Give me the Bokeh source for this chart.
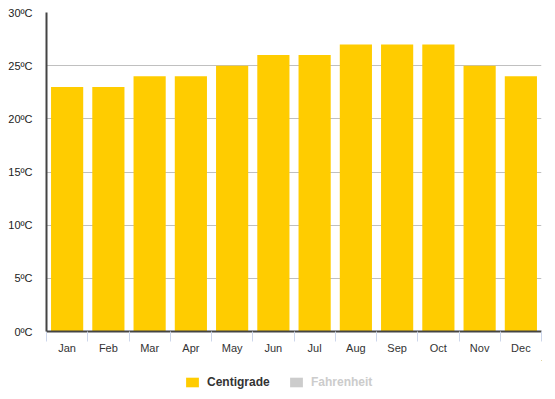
from bokeh.plotting import figure
from bokeh.layouts import column
from bokeh.models import Range1d, FixedTicker, Legend, LegendItem, ColumnDataSource
from bokeh.embed import file_html
from bokeh.resources import INLINE

months = ["Jan", "Feb", "Mar", "Apr", "May", "Jun", "Jul", "Aug", "Sep", "Oct", "Nov", "Dec"]
centigrade = [23, 23, 24, 24, 25, 26, 26, 27, 27, 27, 25, 24]
y_ticks = [0, 5, 10, 15, 20, 25, 30]
y_tick_labels = ["0ºC", "5ºC", "10ºC", "15ºC", "20ºC", "25ºC", "30ºC"]
series_names = ["Centigrade", "Fahrenheit"]

FONT = "Liberation Sans"

xs = [i + 0.5 for i in range(len(months))]
src = ColumnDataSource(dict(x=xs, top=centigrade))

p = figure(width=555, height=360, x_range=Range1d(0, len(months)), y_range=Range1d(0, 30),
           output_backend="svg", toolbar_location=None,
           min_border_left=46, min_border_right=14, min_border_top=12, min_border_bottom=29)
p.outline_line_color = None
p.background_fill_color = "white"
p.border_fill_color = "white"

p.xgrid.grid_line_color = None
p.ygrid.grid_line_color = "#c0c0c0"
p.ygrid.ticker = FixedTicker(ticks=y_ticks)

p.vbar(x="x", top="top", width=0.78, source=src, fill_color="#ffcc00", line_color=None)

# x axis
xa = p.xaxis[0]
xa.ticker = FixedTicker(ticks=xs, minor_ticks=list(range(len(months) + 1)))
xa.major_label_overrides = {x: m for x, m in zip(xs, months)}
xa.major_tick_line_color = None
xa.major_tick_out = 0
xa.major_tick_in = 0
xa.minor_tick_line_color = "#ccd6eb"
xa.minor_tick_out = 10
xa.minor_tick_in = 0
xa.axis_line_color = "#444444"
xa.axis_line_width = 2
xa.major_label_standoff = 0
xa.major_label_text_font = FONT
xa.major_label_text_font_size = "11px"
xa.major_label_text_color = "#333333"

# y axis
ya = p.yaxis[0]
ya.ticker = FixedTicker(ticks=y_ticks)
ya.major_label_overrides = {t: l for t, l in zip(y_ticks, y_tick_labels)}
ya.major_tick_line_color = None
ya.major_tick_out = 0
ya.major_tick_in = 0
ya.minor_tick_line_color = None
ya.axis_line_color = "#444444"
ya.axis_line_width = 2
ya.major_label_standoff = 14
ya.major_label_text_font = FONT
ya.major_label_text_font_size = "11px"
ya.major_label_text_color = "#222222"

# legend strip (proxy renderers lie far outside the strip's visible ranges)
lf = figure(width=555, height=39, x_range=Range1d(-1000, -999), y_range=Range1d(-1000, -999),
            output_backend="svg", toolbar_location=None,
            x_axis_location=None, y_axis_location=None,
            min_border_left=46, min_border_right=14, min_border_top=0, min_border_bottom=0)
lf.outline_line_color = None
lf.grid.grid_line_color = None
lr1 = lf.vbar(x="x", top="top", width=0.5, source=src, fill_color="#ffcc00", line_color=None)
lr2 = lf.vbar(x="x", top="top", width=0.5, source=src, fill_color="#cccccc", line_color=None)

def make_legend(label, renderer, color, x):
    return Legend(items=[LegendItem(label=label, renderers=[renderer])],
                  location=(x, 10), orientation="horizontal",
                  glyph_width=16, glyph_height=12, label_height=12,
                  padding=0, margin=0, spacing=0, label_standoff=7,
                  label_text_font=FONT, label_text_font_size="12px",
                  label_text_font_style="bold", label_text_color=color,
                  background_fill_alpha=0, border_line_color=None)

lf.add_layout(make_legend(series_names[0], lr1, "#333333", 138))
lf.add_layout(make_legend(series_names[1], lr2, "#cccccc", 242))

layout = column(p, lf, spacing=0)
open("out.html", "w").write(file_html(layout, INLINE))
